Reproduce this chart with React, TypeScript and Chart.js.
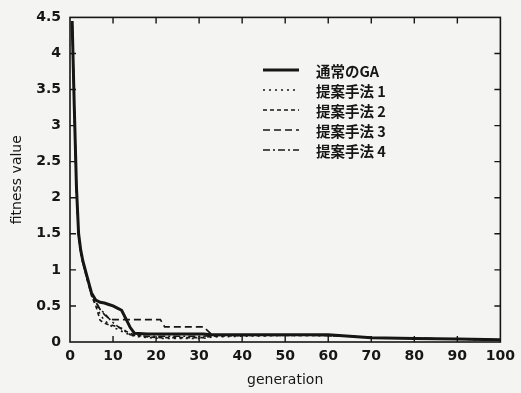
import React, { useEffect, useRef } from "react";
import { Chart, registerables } from "chart.js";

Chart.register(...registerables);

const generations = [0.5, 1, 1.5, 2, 2.5, 3, 4, 5, 6, 7, 8, 9, 10, 11, 12, 13, 14, 15, 18, 21, 22, 25, 31, 33, 40, 50, 60, 65, 70, 80, 90, 100];

const normalGA = [4.45, 3.25, 2.15, 1.5, 1.27, 1.12, 0.9, 0.68, 0.58, 0.55, 0.54, 0.52, 0.5, 0.47, 0.44, 0.32, 0.2, 0.12, 0.11, 0.11, 0.11, 0.11, 0.11, 0.1, 0.1, 0.1, 0.1, 0.08, 0.06, 0.05, 0.04, 0.03];
const method1 = [4.45, 3.22, 2.12, 1.47, 1.25, 1.1, 0.87, 0.65, 0.52, 0.38, 0.3, 0.25, 0.2, 0.18, 0.15, 0.12, 0.1, 0.08, 0.06, 0.05, 0.05, 0.05, 0.05, 0.07, 0.08, 0.09, 0.09, 0.08, 0.06, 0.05, 0.04, 0.03];
const method2 = [4.45, 3.2, 2.1, 1.46, 1.24, 1.09, 0.86, 0.64, 0.5, 0.3, 0.26, 0.24, 0.23, 0.21, 0.19, 0.15, 0.12, 0.1, 0.07, 0.06, 0.06, 0.06, 0.06, 0.08, 0.09, 0.09, 0.09, 0.08, 0.06, 0.05, 0.04, 0.03];
const method3 = [4.45, 3.24, 2.14, 1.49, 1.26, 1.11, 0.89, 0.67, 0.56, 0.45, 0.38, 0.33, 0.31, 0.31, 0.31, 0.31, 0.31, 0.31, 0.31, 0.31, 0.21, 0.21, 0.21, 0.1, 0.1, 0.1, 0.09, 0.08, 0.06, 0.05, 0.04, 0.03];
const method4 = [4.45, 3.22, 2.13, 1.48, 1.26, 1.1, 0.88, 0.66, 0.55, 0.45, 0.4, 0.33, 0.27, 0.22, 0.18, 0.14, 0.1, 0.09, 0.08, 0.08, 0.08, 0.08, 0.08, 0.09, 0.1, 0.1, 0.09, 0.08, 0.06, 0.05, 0.04, 0.03];

const seriesLabels = ["通常のGA", "提案手法 1", "提案手法 2", "提案手法 3", "提案手法 4"];
const seriesValues = [normalGA, method1, method2, method3, method4];
const seriesDashes: number[][] = [[], [2, 4], [4, 3], [7, 4], [7, 3, 2, 3]];
const seriesWidths = [3, 1.6, 1.6, 1.6, 1.6];

const xTicks = [0, 10, 20, 30, 40, 50, 60, 70, 80, 90, 100];
const yTicks = [0, 0.5, 1, 1.5, 2, 2.5, 3, 3.5, 4, 4.5];

const INK = "#161616";

const framePlugin = {
  id: "frame",
  afterDraw(chart: any) {
    const { ctx, chartArea: a, scales } = chart;
    ctx.save();
    ctx.strokeStyle = INK;
    ctx.lineWidth = 1.6;
    ctx.setLineDash([]);
    ctx.strokeRect(a.left, a.top, a.right - a.left, a.bottom - a.top);
    ctx.lineWidth = 1.4;
    const len = 6;
    xTicks.slice(1, -1).forEach((v) => {
      const px = scales.x.getPixelForValue(v);
      ctx.beginPath();
      ctx.moveTo(px, a.bottom);
      ctx.lineTo(px, a.bottom - len);
      ctx.moveTo(px, a.top);
      ctx.lineTo(px, a.top + len);
      ctx.stroke();
    });
    yTicks.slice(1, -1).forEach((v) => {
      const py = scales.y.getPixelForValue(v);
      ctx.beginPath();
      ctx.moveTo(a.left, py);
      ctx.lineTo(a.left + len, py);
      ctx.moveTo(a.right, py);
      ctx.lineTo(a.right - len, py);
      ctx.stroke();
    });
    // legend
    const x0 = 263;
    const x1 = 299;
    const tx = 316;
    const y0 = 70;
    const dy = 20;
    chart.data.datasets.forEach((ds: any, i: number) => {
      const y = y0 + i * dy;
      ctx.beginPath();
      ctx.lineWidth = ds.borderWidth;
      ctx.setLineDash(ds.borderDash || []);
      ctx.strokeStyle = INK;
      ctx.moveTo(x0, y);
      ctx.lineTo(x1, y);
      ctx.stroke();
      ctx.setLineDash([]);
      ctx.fillStyle = INK;
      ctx.font = "bold 14.5px 'Noto Sans CJK JP'";
      ctx.textBaseline = "middle";
      ctx.textAlign = "left";
      ctx.fillText(ds.label, tx, y + 1);
    });
    ctx.restore();
  },
};

export default function App() {
  const ref = useRef<HTMLCanvasElement | null>(null);
  useEffect(() => {
    document.body.style.margin = "0";
    const chart = new Chart(ref.current as HTMLCanvasElement, {
      type: "line",
      data: {
        datasets: seriesLabels.map((label, i) => ({
          label,
          data: generations.map((g, j) => ({ x: g, y: seriesValues[i][j] })),
          borderColor: INK,
          borderWidth: seriesWidths[i],
          borderDash: seriesDashes[i],
          pointRadius: 0,
          tension: 0,
          fill: false,
        })),
      },
      options: {
        animation: false,
        responsive: true,
        maintainAspectRatio: false,
        layout: { padding: { top: 14, right: 16, left: 0, bottom: 0 } },
        plugins: { legend: { display: false }, tooltip: { enabled: false } },
        scales: {
          x: {
            type: "linear",
            min: 0,
            max: 100,
            afterFit: (s: any) => {
              s.height = 51;
            },
            afterBuildTicks: (s: any) => {
              s.ticks = xTicks.map((v) => ({ value: v }));
            },
            ticks: {
              color: INK,
              font: { family: "'DejaVu Sans'", size: 14, weight: "bold" },
              padding: 6,
              maxRotation: 0,
              autoSkip: false,
              callback: (v: any) => String(v),
            },
            grid: { display: false, drawTicks: false },
            border: { display: false },
            title: {
              display: true,
              text: "generation",
              color: INK,
              font: { family: "'DejaVu Sans'", size: 14 },
              padding: { top: 0, bottom: 4 },
            },
          },
          y: {
            type: "linear",
            min: 0,
            max: 4.5,
            afterFit: (s: any) => {
              s.width = 70;
            },
            afterBuildTicks: (s: any) => {
              s.ticks = yTicks.map((v) => ({ value: v }));
            },
            ticks: {
              color: INK,
              font: { family: "'DejaVu Sans'", size: 14, weight: "bold" },
              padding: 9,
              autoSkip: false,
              callback: (v: any) => String(v),
            },
            grid: { display: false, drawTicks: false },
            border: { display: false },
            title: {
              display: true,
              text: "fitness value",
              color: INK,
              font: { family: "'DejaVu Sans'", size: 14 },
              padding: { top: 9, bottom: 0 },
            },
          },
        },
      },
      plugins: [framePlugin],
    });
    return () => chart.destroy();
  }, []);
  return (
    <div style={{ position: "absolute", left: 0, top: 0, width: 521, height: 393, background: "#f4f4f2" }}>
      <canvas ref={ref} />
    </div>
  );
}
